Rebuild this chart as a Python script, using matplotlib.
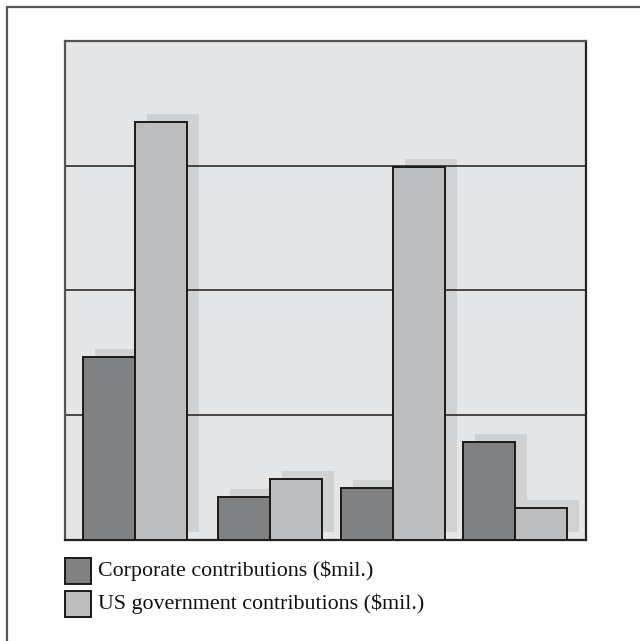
import matplotlib
matplotlib.use("Agg")
import matplotlib.pyplot as plt
from matplotlib.patches import Rectangle
import numpy as np

# Data
groups = ["A", "B", "C", "D"]
corporate = [1.466, 0.345, 0.417, 0.785]
government = [3.35, 0.49, 2.99, 0.256]
labels = ["Corporate contributions ($mil.)", "US government contributions ($mil.)"]

# layout
group_centers = [0.135, 0.394, 0.630, 0.864]
bar_w = 0.0995
W, H = 640, 641
c_bg = "#e5e6e8"
c_corp = "#808183"
c_gov = "#bdbec0"
c_shadow = "#d1d2d4"

fig = plt.figure(figsize=(W/100, H/100), dpi=100)
fig.patch.set_facecolor("white")

ax = fig.add_axes([64.7/W, (H-540)/H, (585.7-64.7)/W, (540-40.8)/H])
ax.set_facecolor(c_bg)
ax.set_xlim(0, 1)
ax.set_ylim(0, 4)

x = np.array(group_centers)
corp_x = x - bar_w/2
gov_x = x + bar_w/2

dx = 12/521
dy = 8/124.8

# shadows
ax.bar(corp_x + dx, corporate, width=bar_w, bottom=dy, color=c_shadow, zorder=1, linewidth=0)
ax.bar(gov_x + dx, government, width=bar_w, bottom=dy, color=c_shadow, zorder=1, linewidth=0)

for yv in [1, 2, 3]:
    ax.axhline(yv, color="#3a3a3a", lw=1.3, zorder=2)

ax.bar(corp_x, corporate, width=bar_w, color=c_corp, edgecolor="#1a1a1a", linewidth=1.4, zorder=3)
ax.bar(gov_x, government, width=bar_w, color=c_gov, edgecolor="#1a1a1a", linewidth=1.4, zorder=3)

ax.set_xticks([])
ax.set_yticks([])
for s in ["left", "top"]:
    ax.spines[s].set_color("#555555")
    ax.spines[s].set_linewidth(1.6)
for s in ["right", "bottom"]:
    ax.spines[s].set_color("#222222")
    ax.spines[s].set_linewidth(1.6)

# figure border (top & left visible; extends past right/bottom)
fig.patches.append(Rectangle((7/W, -0.05), 1.1, (H-7)/H + 0.05, transform=fig.transFigure,
                             fill=False, edgecolor="#555555", linewidth=1.6))

# legend
for i, (lab, col) in enumerate(zip(labels, [c_corp, c_gov])):
    top = 558 + i*33
    fig.patches.append(Rectangle((65/W, (H-top-26)/H), 26/W, 26/H, transform=fig.transFigure,
                                 facecolor=col, edgecolor="#1a1a1a", linewidth=1.4))
    fig.text(98/W, (H-top-13)/H, lab, fontsize=15.8, family="Liberation Serif",
             va="center", ha="left", color="#111111")

fig.savefig("out.png", dpi=100)
